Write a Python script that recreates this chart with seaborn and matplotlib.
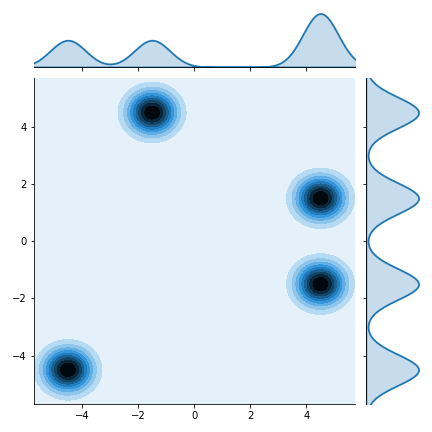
import matplotlib
matplotlib.use("Agg")
import matplotlib.pyplot as plt
from matplotlib.colors import ListedColormap
import seaborn as sns

# cluster samples (five points per cluster, small cross around each centre)
c1_x = [-1.5, -1.7, -1.3, -1.5, -1.5]
c1_y = [4.5, 4.5, 4.5, 4.325, 4.675]
c2_x = [4.5, 4.3, 4.7, 4.5, 4.5]
c2_y = [1.5, 1.5, 1.5, 1.325, 1.675]
c3_x = [4.5, 4.3, 4.7, 4.5, 4.5]
c3_y = [-1.5, -1.5, -1.5, -1.675, -1.325]
c4_x = [-4.5, -4.7, -4.3, -4.5, -4.5]
c4_y = [-4.5, -4.5, -4.5, -4.675, -4.325]

clusters = [(c1_x, c1_y), (c2_x, c2_y), (c3_x, c3_y), (c4_x, c4_y)]
x = c1_x + c2_x + c3_x + c4_x
y = c1_y + c2_y + c3_y + c4_y

color = "#1f77b4"
cmap = sns.blend_palette(
    [sns.set_hls_values(color, l=l) for l in [1.0, 0.9, 0.8, 0.7, 0.6, 0.5, 0.4, 0.3, 0.2, 0.1, 0.0]],
    as_cmap=True)
levels = [0.1, 0.2, 0.3, 0.4, 0.5, 0.6, 0.7, 0.8, 0.9, 1.0]
band_colors = [cmap((i + 0.5) / 10 + 0.015) for i in range(10)]
ring_cmap = ListedColormap(band_colors[1:])

g = sns.JointGrid(height=6, ratio=5, space=0.2)
ax = g.ax_joint
ax.set_facecolor(band_colors[0])
for cx, cy in clusters:
    sns.kdeplot(x=cx, y=cy, ax=ax, fill=True, levels=levels,
                cmap=ring_cmap, bw_adjust=5.1, gridsize=200)

sns.kdeplot(x=x, ax=g.ax_marg_x, fill=True, color=color, bw_adjust=0.28,
            linewidth=1.8)
sns.kdeplot(y=y, ax=g.ax_marg_y, fill=True, color=color, bw_adjust=0.28,
            linewidth=1.8)

ax.set_xlim(-5.72, 5.72)
ax.set_ylim(-5.7, 5.7)
ax.set_xlabel("")
ax.set_ylabel("")
ax.set_xticks([-4, -2, 0, 2, 4])
ax.set_yticks([-4, -2, 0, 2, 4])

g.figure.set_size_inches(6, 6)
g.figure.savefig("out.png", dpi=72)
